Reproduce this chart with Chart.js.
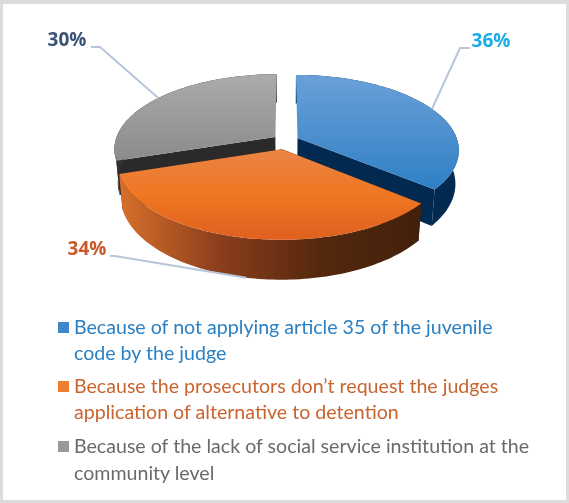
<!DOCTYPE html>
<html>
<head>
<meta charset="utf-8">
<script src="https://cdn.jsdelivr.net/npm/chart.js@4"></script>
<style>
  html, body { margin: 0; padding: 0; background: #dcdcdc; }
  #frame { position: absolute; left: 3px; top: 4px; width: 563px; height: 496px; background: #fff; }
  #chart { position: absolute; left: 0; top: 0; }
  #legend { position: absolute; left: 0; top: 0; font-family: Lato, sans-serif; font-size: 19.6px; }
  #legend div { position: absolute; white-space: nowrap; line-height: 24px; }
  #legend i { position: absolute; width: 11px; height: 11px; }
</style>
</head>
<body>
<div id="frame"></div>
<canvas id="chart" width="569" height="503"></canvas>
<div id="legend"></div>
<script>
const categories = [
  ['Because of not applying article 35 of the juvenile', 'code by the judge'],
  ['Because the prosecutors don\u2019t request the judges', 'application of alternative to detention'],
  ['Because of the lack of social service institution at the', 'community level'],
];
const shares = [36, 34, 30];
const explode = [13, 19, 13];

const labelColors = ['#1aaee8', '#c9582a', '#3b5375'];
const legendColors = ['#2a80c2', '#c9632f', '#6a6a6a'];
const swatchColors = ['#3f87c8', '#ed7d31', '#999999'];
const topStops = [
  ['#6aa0d8', '#2f80c4'],
  ['#ea8445', '#ef7722', '#e0601f'],
  ['#ababab', '#8b8b8b'],
];
const wallStops = [
  ['#02284c', '#032b52'],
  ['#d56e2a', '#8a3d1c', '#55280e', '#42200c'],
  ['#333333', '#2a2a2a'],
];
const cutColors = ['#02294f', '#42200c', '#2a2a2a'];
const labelSpots = [[491, 48], [87, 256], [67, 47]];
const leaderGap = [-21, 23, 24];
const leaderElbow = [-10, 5, 9];

// tilted disc with a little perspective, front edge comes closer to the viewer
const originX = 285.8, originY = 140.6, tilt = 0.46, viewDist = 1040, depth = 33;

function project(u, v, z) {
  const w = 1 / (1 - v / viewDist);
  // the underside is further away, so it pulls in a bit sideways
  return [originX + u * w * (1 - z * 0.0006), originY + v * tilt * w + z * w];
}

function sliceGeometry(arc) {
  const mid = (arc.startAngle + arc.endAngle) / 2;
  const off = arc.options.offset;
  return {
    mid,
    r: arc.outerRadius,
    start: arc.startAngle,
    end: arc.endAngle,
    cu: Math.cos(mid) * off,
    cv: Math.sin(mid) * off,
  };
}

function rimPoint(s, a, z) {
  return project(s.cu + Math.cos(a) * s.r, s.cv + Math.sin(a) * s.r, z);
}

function rimPath(s, z) {
  const pts = [];
  const n = 90;
  for (let i = 0; i <= n; i++) {
    pts.push(rimPoint(s, s.start + (s.end - s.start) * i / n, z));
  }
  return pts;
}

function fillPoly(ctx, pts, style) {
  ctx.beginPath();
  pts.forEach((p, i) => (i ? ctx.lineTo(p[0], p[1]) : ctx.moveTo(p[0], p[1])));
  ctx.closePath();
  ctx.fillStyle = style;
  ctx.fill();
}

function gradient(ctx, x0, y0, x1, y1, stops) {
  const g = ctx.createLinearGradient(x0, y0, x1, y1);
  stops.forEach((c, i) => g.addColorStop(i / (stops.length - 1), c));
  return g;
}

function drawSlice(ctx, arc, i) {
  const s = sliceGeometry(arc);
  const top = rimPath(s, 0);
  const bottom = rimPath(s, depth);
  const apex = project(s.cu, s.cv, 0);
  const apexLow = project(s.cu, s.cv, depth);
  const last = top.length - 1;

  // flat cut faces first, only the ones turned towards the viewer
  if (top[0][1] > apex[1]) fillPoly(ctx, [apex, top[0], bottom[0], apexLow], cutColors[i]);
  if (top[last][1] > apex[1]) fillPoly(ctx, [apex, top[last], bottom[last], apexLow], cutColors[i]);

  const xs = bottom.map(p => p[0]);
  const ys = top.map(p => p[1]);
  const wall = gradient(ctx, Math.min(...xs), 0, Math.max(...xs), 0, wallStops[i]);
  fillPoly(ctx, top.concat(bottom.slice().reverse()), wall);

  const face = gradient(ctx, 0, Math.min(...ys, apex[1]), 0, Math.max(...ys, apex[1]), topStops[i]);
  fillPoly(ctx, [apex].concat(top), face);
}

const pie3d = {
  id: 'pie3d',
  beforeDatasetsDraw(chart) {
    const ctx = chart.ctx;
    const arcs = chart.getDatasetMeta(0).data;
    ctx.save();
    // back slices first so the front one can overlap them
    [2, 0, 1].forEach(i => drawSlice(ctx, arcs[i], i));
    ctx.restore();
    return false;
  },
  // afterDatasetsDraw does not fire once the datasets are cancelled above
  afterDraw(chart) {
    const ctx = chart.ctx;
    const arcs = chart.getDatasetMeta(0).data;
    ctx.save();
    arcs.forEach((arc, i) => {
      const s = sliceGeometry(arc);
      const isFront = Math.sin(s.mid) > 0.5;
      const anchor = rimPoint(s, s.mid, isFront ? depth : 0);
      const spot = labelSpots[i];
      const lineX = spot[0] + leaderGap[i];

      ctx.beginPath();
      ctx.moveTo(lineX, spot[1]);
      ctx.lineTo(lineX + leaderElbow[i], spot[1]);
      ctx.lineTo(anchor[0], anchor[1]);
      ctx.strokeStyle = '#b6c5da';
      ctx.lineWidth = 2;
      ctx.stroke();

      ctx.font = 'bold 19px "Open Sans", sans-serif';
      ctx.textAlign = 'center';
      ctx.textBaseline = 'middle';
      ctx.fillStyle = labelColors[i];
      ctx.fillText(shares[i] + '%', spot[0], spot[1] - 6);
    });
    ctx.restore();
  },
};

new Chart(document.getElementById('chart'), {
  type: 'pie',
  data: {
    labels: categories.map(c => c.join(' ')),
    datasets: [{
      data: shares,
      offset: explode,
      borderWidth: 0,
      backgroundColor: swatchColors,
    }],
  },
  options: {
    responsive: false,
    animation: false,
    radius: 160,
    events: [],
    plugins: { legend: { display: false }, tooltip: { enabled: false } },
  },
  plugins: [pie3d],
});

// legend sits under the pie, two lines per entry
const legendEl = document.getElementById('legend');
const legendTops = [[315, 341], [374, 400], [434, 461]];
categories.forEach((lines, i) => {
  const sw = document.createElement('i');
  sw.style.cssText = `left:58px;top:${legendTops[i][0] + 7}px;background:${swatchColors[i]}`;
  legendEl.appendChild(sw);
  lines.forEach((text, j) => {
    const row = document.createElement('div');
    row.textContent = text;
    row.style.cssText = `left:74px;top:${legendTops[i][j]}px;color:${legendColors[i]}`;
    legendEl.appendChild(row);
  });
});
</script>
</body>
</html>
